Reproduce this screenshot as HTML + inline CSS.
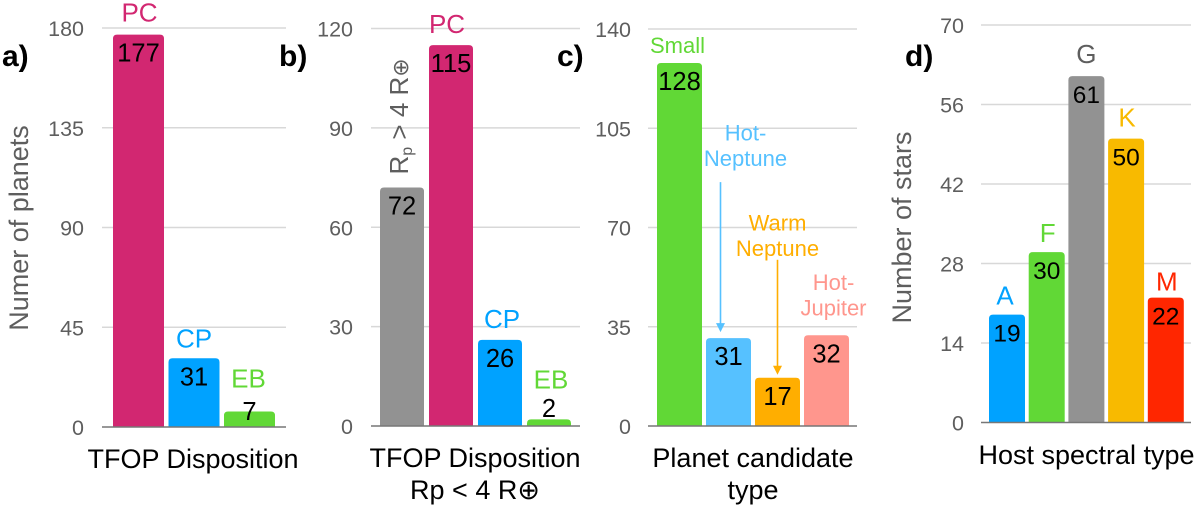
<!DOCTYPE html>
<html lang="en">
<head>
<meta charset="utf-8">
<title>TFOP disposition and planet candidate charts</title>
<style>
html,body{margin:0;padding:0;background:#fff;width:1200px;height:508px;overflow:hidden}
svg{display:block}
text{font-family:"Liberation Sans","DejaVu Sans",sans-serif}
</style>
</head>
<body>
<svg id="chart" width="1200" height="508" viewBox="0 0 1200 508" xmlns="http://www.w3.org/2000/svg"></svg>
<script>
// ---- chart data ----
const panelACategories = ['PC', 'CP', 'EB'];
const panelAValues = [177, 31, 7];
const panelATicks = [0, 45, 90, 135, 180];

const panelBCategories = ['Rp > 4', 'PC', 'CP', 'EB'];
const panelBValues = [72, 115, 26, 2];
const panelBTicks = [0, 30, 60, 90, 120];

const panelCCategories = ['Small', 'Hot-|Neptune', 'Warm|Neptune', 'Hot-|Jupiter'];
const panelCValues = [128, 31, 17, 32];
const panelCTicks = [0, 35, 70, 105, 140];

const panelDCategories = ['A', 'F', 'G', 'K', 'M'];
const panelDValues = [19, 30, 61, 50, 22];
const panelDTicks = [0, 14, 28, 42, 56, 70];

// ---- layout (not data) ----
const PINK = '#d22771', BLUE = '#00a2ff', GREEN = '#61d836', GRAY = '#929292',
      AMBER = '#f8ba00', RED = '#ff2600', SKY = '#56c1ff', ORANGE = '#ffae00', SALMON = '#ff968d';

const panels = [
  { id: 'a', letter: 'a)', letterX: 2, cats: panelACategories, vals: panelAValues, ticks: panelATicks,
    axisL: 102, axisR: 286, y0: 427, yTop: 28, tickX: 84, barStart: 113, barStep: 55.5, barW: 51,
    colors: [PINK, BLUE, GREEN], textColors: [PINK, BLUE, GREEN],
    labelDx: [1, 0, -1], labelGap: [13, 11, 24], labelSize: 26, valueSize: 25.5, valueMinGap: 7,
    labelHidden: [] },
  { id: 'b', letter: 'b)', letterX: 279, cats: panelBCategories, vals: panelBValues, ticks: panelBTicks,
    axisL: 371, axisR: 580, y0: 426, yTop: 28.5, tickX: 353, barStart: 380, barStep: 49, barW: 44,
    colors: [GRAY, PINK, BLUE, GREEN], textColors: ['#5e5e5e', PINK, BLUE, GREEN],
    labelDx: [0, -4, 2, 2], labelGap: [13, 12, 12, 31], labelSize: 26, valueSize: 25.5, valueMinGap: 9,
    labelHidden: [0] },
  { id: 'c', letter: 'c)', letterX: 557, cats: panelCCategories, vals: panelCValues, ticks: panelCTicks,
    axisL: 648, axisR: 857, y0: 426, yTop: 29, tickX: 631, barStart: 657, barStep: 49, barW: 45,
    colors: [GREEN, SKY, ORANGE, SALMON], textColors: [GREEN, SKY, ORANGE, SALMON],
    labelDx: [-2, 17, 0, 7], labelGap: [10, 172, 122, 20], labelSize: 22, valueSize: 25.5, valueMinGap: 7,
    lineGap: 25.5, arrows: [null, { dx: -8, from: 16, tipGap: 6 }, { dx: 0, from: 4, tipGap: 3 }, null],
    labelHidden: [] },
  { id: 'd', letter: 'd)', letterX: 905, cats: panelDCategories, vals: panelDValues, ticks: panelDTicks,
    axisL: 981, axisR: 1191, y0: 422.5, yTop: 25, tickX: 964, barStart: 989, barStep: 39.7, barW: 36,
    colors: [BLUE, GREEN, GRAY, AMBER, RED], textColors: [BLUE, GREEN, '#5e5e5e', AMBER, RED],
    labelDx: [-2, 1, 0, 1, 1], labelGap: [10, 10, 13, 12, 7], labelSize: 26, valueSize: 24.5, valueMinGap: 7,
    labelHidden: [] }
];

const svg = document.getElementById('chart');
const NS = 'http://www.w3.org/2000/svg';

function make(tag, attrs, text) {
  const el = document.createElementNS(NS, tag);
  for (const k in attrs) el.setAttribute(k, attrs[k]);
  if (text !== undefined) el.textContent = text;
  return el;
}

function yScale(p, v) {
  const max = p.ticks[p.ticks.length - 1];
  return p.y0 - (v / max) * (p.y0 - p.yTop);
}

function xBar(p, i) {
  return p.barStart + i * p.barStep;
}

function barPath(x, top, w, base) {
  const r = Math.min(4, Math.max(0, base - top));
  return 'M' + x + ' ' + base + 'V' + (top + r) + 'Q' + x + ' ' + top + ' ' + (x + r) + ' ' + top +
         'H' + (x + w - r) + 'Q' + (x + w) + ' ' + top + ' ' + (x + w) + ' ' + (top + r) + 'V' + base + 'Z';
}

panels.forEach(function (p) {
  const g = make('g', {});
  
  
  svg.appendChild(g);

  // gridlines + tick labels
  p.ticks.forEach(function (t) {
    const y = yScale(p, t);
    if (t !== 0) {
      const line = make('line', { x1: p.axisL, x2: p.axisR, y1: y, y2: y, stroke: '#d8d8d8', 'stroke-width': 1.6 });
      
      
      g.appendChild(line);
    }
    const lab = make('text', { x: p.tickX, y: y + 8, 'text-anchor': 'end', 'font-size': 21.5, fill: '#5e5e5e' }, String(t));
    
    
    g.appendChild(lab);
  });

  // bars
  p.vals.forEach(function (v, i) {
    const x = xBar(p, i), top = yScale(p, v);
    const bar = make('path', { d: barPath(x, top, p.barW, p.y0), fill: p.colors[i] });
    
    
    g.appendChild(bar);
  });

  // baseline
  const axis = make('line', { x1: p.axisL, x2: p.axisR, y1: p.y0, y2: p.y0, stroke: '#777', 'stroke-width': 1.4 });
  
  
  g.appendChild(axis);

  // value labels + category labels + arrows
  p.vals.forEach(function (v, i) {
    const x = xBar(p, i), top = yScale(p, v), cx = x + p.barW / 2;
    const valueY = Math.min(top + 27, p.y0 - p.valueMinGap);
    const val = make('text', { x: cx, y: valueY, 'text-anchor': 'middle', 'font-size': p.valueSize, fill: '#000' }, String(v));
    
    
    g.appendChild(val);

    if (p.labelHidden.indexOf(i) === -1) {
      const lines = p.cats[i].split('|');
      const lastY = top - p.labelGap[i];
      lines.forEach(function (ln, j) {
        const ly = lastY - (lines.length - 1 - j) * (p.lineGap || 0);
        const t = make('text', { x: cx + p.labelDx[i], y: ly, 'text-anchor': 'middle', 'font-size': p.labelSize, fill: p.textColors[i] }, ln);
        
        
        g.appendChild(t);
      });
      if (p.arrows && p.arrows[i]) {
        const a = p.arrows[i], ax = cx + a.dx, tip = top - a.tipGap;
        const shaft = make('line', { x1: ax, x2: ax, y1: lastY + a.from, y2: tip - 6, stroke: p.colors[i], 'stroke-width': 1.6 });
        
        
        g.appendChild(shaft);
        const head = make('path', { d: 'M' + (ax - 4.5) + ' ' + (tip - 9) + 'H' + (ax + 4.5) + 'L' + ax + ' ' + tip + 'Z', fill: p.colors[i] });
        
        
        g.appendChild(head);
      }
    }
  });

  // panel letter
  const letter = make('text', { x: p.letterX, y: 66, 'font-size': 30, 'font-weight': 'bold', fill: '#000' }, p.letter);
  
  
  svg.appendChild(letter);
});

// rotated annotation above the first bar in panel b
(function () {
  const p = panels[1];
  const baseX = xBar(p, 0) + 28;
  const startY = yScale(p, p.vals[0]) - p.labelGap[0];
  const t = make('text', { transform: 'translate(' + baseX + ' ' + startY + ') rotate(-90)', 'font-size': 26, fill: '#5e5e5e' });
  
  
  t.appendChild(make('tspan', {}, 'R'));
  t.appendChild(make('tspan', { 'font-size': 16, dy: 4 }, 'p'));
  t.appendChild(make('tspan', { dy: -4 }, ' > 4 R'));
  t.appendChild(make('tspan', { 'font-size': 22 }, '\u2295'));
  svg.appendChild(t);
})();

// axis titles
const titles = [
  { n: 'y-axis-title-a', s: 'Numer of planets', x: 28, y: 228, rot: true },
  { n: 'x-axis-title-a', s: 'TFOP Disposition', x: 193, y: 468 },
  { n: 'x-axis-title-b', s: 'TFOP Disposition', x: 475, y: 467 },
  { n: 'x-axis-subtitle-b', s: 'Rp < 4 R\u2295', x: 475, y: 499 },
  { n: 'x-axis-title-c', s: 'Planet candidate', x: 753, y: 467 },
  { n: 'x-axis-subtitle-c', s: 'type', x: 753, y: 499 },
  { n: 'y-axis-title-d', s: 'Number of stars', x: 911, y: 227.5, rot: true },
  { n: 'x-axis-title-d', s: 'Host spectral type', x: 1086.5, y: 464 }
];
titles.forEach(function (o) {
  const attrs = { 'text-anchor': 'middle', 'font-size': 27, fill: o.rot ? '#5e5e5e' : '#000' };
  if (o.rot) { attrs.transform = 'translate(' + o.x + ' ' + o.y + ') rotate(-90)'; }
  else { attrs.x = o.x; attrs.y = o.y; }
  const t = make('text', attrs, o.s);
  
  
  svg.appendChild(t);
});
</script>
</body>
</html>
